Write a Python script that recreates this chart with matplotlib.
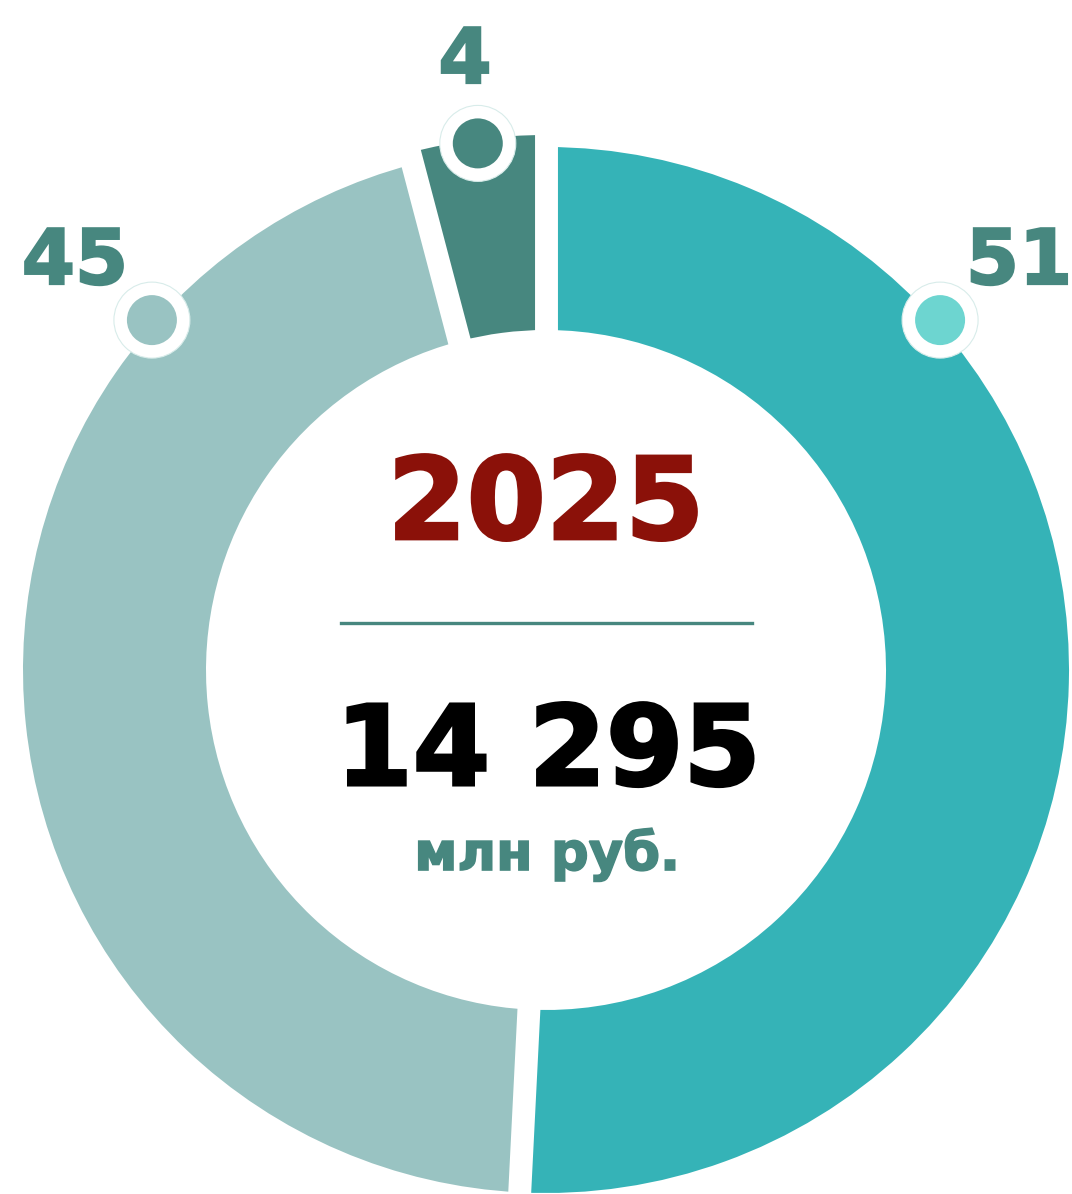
import matplotlib
matplotlib.use('Agg')
import matplotlib.pyplot as plt
import matplotlib.patheffects as pe
from matplotlib.patches import Circle
import numpy as np

# ---- data ----
shares = [50.8, 45.1, 4.1]
share_labels = ['51', '45', '4']
seg_colors = ['#35b3b7', '#99c3c2', '#47877f']
marker_colors = ['#6dd5d0', '#99c3c2', '#47877f']
year_text = '2025'
total_text = '14 295'
unit_text = 'млн руб.'

# ---- layout ----
W, H = 1072, 1194
cx, cy = 546, H - 670
R_OUT, R_IN = 523, 340
R_HIGHLIGHT = 535
marker_angles = [41.6, 138.4, None]     # None -> middle of segment
marker_radii = [527, 527, 531]
label_pos = [(1019, H - 284), (75, H - 284), (465, H - 83)]
label_color = '#47877f'
FONT = 'DejaVu Sans'


def heavy(color, w=1.6):
    return [pe.Stroke(linewidth=w, foreground=color, joinstyle='miter'), pe.Normal()]


fig = plt.figure(figsize=(W / 100, H / 100), dpi=100)
ax = fig.add_axes([0, 0, 1, 1])
wedges, _ = ax.pie(shares, radius=R_OUT, center=(cx, cy), startangle=90,
                   counterclock=False, colors=seg_colors,
                   wedgeprops=dict(width=R_OUT - R_IN, linewidth=0))
# the smallest segment is drawn slightly larger
wedges[2].set_radius(R_HIGHLIGHT)
wedges[2].set_width(R_HIGHLIGHT - R_IN)

# white separators at segment boundaries
bounds = 90 - 360 * np.cumsum([0] + shares[:-1]) / sum(shares)
for b in bounds:
    t = np.deg2rad(b)
    ax.plot([cx + (R_IN - 5) * np.cos(t), cx + (R_HIGHLIGHT + 10) * np.cos(t)],
            [cy + (R_IN - 5) * np.sin(t), cy + (R_HIGHLIGHT + 10) * np.sin(t)],
            color='white', lw=16.5, solid_capstyle='butt', zorder=3)

# markers and labels
for i, w in enumerate(wedges):
    ang = marker_angles[i]
    if ang is None:
        ang = (w.theta1 + w.theta2) / 2
    t = np.deg2rad(ang)
    mx, my = cx + marker_radii[i] * np.cos(t), cy + marker_radii[i] * np.sin(t)
    ax.add_patch(Circle((mx, my), 38, facecolor='white', edgecolor='#d8ecea', lw=0.8, zorder=4))
    ax.add_patch(Circle((mx, my), 25, facecolor=marker_colors[i], edgecolor='none', zorder=5))
    lx, ly = label_pos[i]
    ax.text(lx, ly, share_labels[i], ha='center', va='baseline', fontsize=55,
            fontweight='bold', family=FONT, color=label_color, zorder=6,
            path_effects=heavy(label_color))

# centre texts
ax.text(546, H - 539, year_text, ha='center', va='baseline', fontsize=82,
        fontweight='bold', family=FONT, color='#8b1109', zorder=6,
        path_effects=heavy('#8b1109', 2))
ax.plot([341, 752], [H - 623, H - 623], color='#47877f', lw=2.4, zorder=6)
ax.text(548, H - 785, total_text, ha='center', va='baseline', fontsize=80,
        fontweight='bold', family=FONT, color='black', zorder=6,
        path_effects=heavy('black', 2.2))
ax.text(547, H - 870, unit_text, ha='center', va='baseline', fontsize=38,
        fontweight='bold', family=FONT, color='#47877f', zorder=6,
        path_effects=heavy('#47877f', 1.2))

ax.set_xlim(0, W)
ax.set_ylim(0, H)
ax.set_aspect('auto')
ax.axis('off')
fig.savefig('out.png', dpi=100, facecolor='white')
